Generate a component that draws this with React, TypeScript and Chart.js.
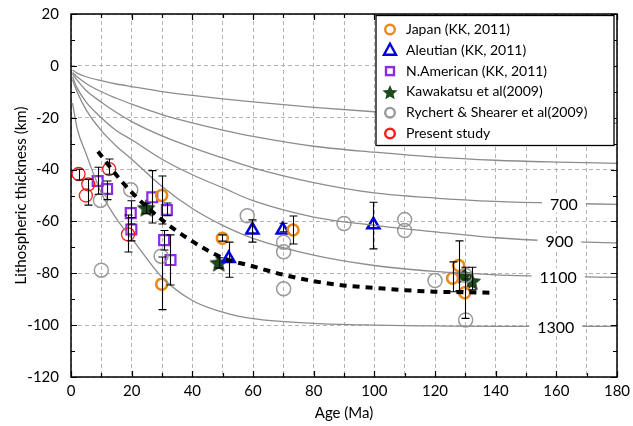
import { useEffect, useRef } from 'react';
import { Chart, registerables } from 'chart.js';
Chart.register(...registerables);

// ---- Isotherm curves (gray) ----
const ISO_AGE = [0.5, 2, 5, 10, 15, 20, 30, 40, 50, 60, 80, 100, 120, 140, 160, 180];
const ISO_A = [-1.6, -2.8, -4.2, -5.7, -7, -8, -9.9, -11.4, -12.7, -13.9, -16, -17.7, -19.2, -20.4, -21.4, -22.2];
const ISO_B = [-2.6, -4.2, -6.8, -10, -12.5, -14.8, -18.8, -22, -24.8, -27.2, -31, -33.3, -35.2, -36.4, -37.1, -37.6];
const ISO_700 = [-3.2, -5.5, -9.5, -14, -18, -21.5, -27, -31.5, -35.5, -39.3, -45, -49, -51, -52.3, -53, -53.4];
const ISO_900 = [-4.2, -8.5, -14, -20, -25, -28.5, -36, -42, -47, -52, -58.3, -61.5, -64, -66.3, -67.6, -68.3];
const ISO_1100 = [-5.3, -10, -17, -25, -31, -36, -46.5, -55, -61.5, -66.5, -73, -77, -79.3, -80.6, -81.2, -81.6];
const ISO_1300 = [-14.4, -24, -34, -49, -59, -66.5, -81.5, -90.5, -95, -97.5, -99.3, -100, -100.3, -100.5, -100.5, -100.5];
const ISO_LABELS = ['', '', '700', '900', '1100', '1300'];

// ---- Thick dashed trend ----
const TREND_AGE = [8.9, 14, 19.7, 29.9, 39.9, 49.9, 59.9, 69.8, 79.8, 89.8, 99.8, 109.8, 119.7, 129.7, 138];
const TREND_DEPTH = [-33, -40.7, -48.4, -59.3, -67.6, -74, -77.3, -80.5, -83, -84.7, -85.6, -86.5, -87.1, -87.3, -87.5];

// ---- Japan (KK, 2011) ----
const JAPAN_AGE = [29.9, 29.9, 49.9, 73.2, 127.8, 125.8, 129.8];
const JAPAN_DEPTH = [-50, -84.2, -66.5, -63.3, -77, -81.9, -87.5];
const JAPAN_ERR_HI = [-42.5, -73.7, -65.2, -57.9, -67.5, -75.6, -77.7];
const JAPAN_ERR_LO = [-61, -94, -67.6, -68.7, -86.7, -87.1, -97.4];

// ---- Aleutian (KK, 2011) ----
const ALEUT_AGE = [52, 59.8, 69.8, 99.7];
const ALEUT_DEPTH = [-74.3, -63.3, -63.3, -61.3];
const ALEUT_ERR_HI = [-68, -59.4, -60.7, -52.6];
const ALEUT_ERR_LO = [-81.5, -68, -64, -70.6];

// ---- N.American (KK, 2011) ----
const NAM_AGE = [8.8, 11.9, 19.7, 19.9, 26.8, 31.6, 30.7, 32.8];
const NAM_DEPTH = [-44.4, -47.5, -56.8, -63.1, -50.7, -55.6, -67.2, -74.9];
const NAM_ERR_HI = [-39.1, -44.4, -52, -58.5, -40.4, -52.9, -63.5, -65.2];
const NAM_ERR_LO = [-49.5, -51.6, -61, -67.5, -60.6, -57.8, -71, -84.5];

// ---- Kawakatsu et al (2009) ----
const KAWA_AGE = [24.8, 48.7, 129.6, 132.1];
const KAWA_DEPTH = [-54.7, -75.9, -80.6, -83];
const KAWA_ERR_HI = [-53, -74, null, -77.7];
const KAWA_ERR_LO = [-57, -78, null, -86.4];

// ---- Rychert & Shearer et al (2009) ----
const RYCH_AGE = [9.7, 10, 19.7, 29.7, 58.1, 70.1, 70.1, 70.1, 90, 110, 110, 120, 130.1, 130.1];
const RYCH_DEPTH = [-51.9, -78.8, -47.8, -73.4, -57.8, -68, -71.7, -86, -60.8, -59.3, -63.5, -82.8, -80.9, -98];

// ---- Present study ----
const PRES_AGE = [2.5, 5.7, 4.9, 12.6, 18.8];
const PRES_DEPTH = [-41.7, -45.7, -50, -39.8, -65];
const PRES_ERR_HI = [-39.9, -43.8, null, -35.9, -57.5];
const PRES_ERR_LO = [-44, -53.7, null, -41.8, -71.8];

const X_TICKS = [0, 20, 40, 60, 80, 100, 120, 140, 160, 180];

const LEGEND_ITEMS = [
  { text: 'Japan (KK, 2011)', kind: 'circle', color: '#e8891c' },
  { text: 'Aleutian (KK, 2011)', kind: 'triangle', color: '#0000e0' },
  { text: 'N.American (KK, 2011)', kind: 'square', color: '#8a2be8' },
  { text: 'Kawakatsu et al(2009)', kind: 'star', color: '#1d4a1d' },
  { text: 'Rychert & Shearer et al(2009)', kind: 'circle', color: '#999999' },
  { text: 'Present study', kind: 'circle', color: '#ff1a1a' },
];

const FONT = 'Lato, "Open Sans", sans-serif';

function pts(xs: number[], ys: number[]) {
  return xs.map((x, i) => ({ x, y: ys[i] }));
}

function starPath(ctx: CanvasRenderingContext2D, cx: number, cy: number, R: number) {
  const r = R * 0.45;
  ctx.beginPath();
  for (let i = 0; i < 10; i++) {
    const a = -Math.PI / 2 + (i * Math.PI) / 5;
    const rr = i % 2 ? r : R;
    const px = cx + rr * Math.cos(a);
    const py = cy + rr * Math.sin(a);
    if (i === 0) ctx.moveTo(px, py);
    else ctx.lineTo(px, py);
  }
  ctx.closePath();
}

function makeStar(size: number) {
  const c = document.createElement('canvas');
  c.width = size;
  c.height = size;
  const g = c.getContext('2d')!;
  starPath(g, size / 2, size / 2 + 1, size / 2 - 1);
  g.fillStyle = '#1d4a1d';
  g.fill();
  g.strokeStyle = '#0d260d';
  g.lineWidth = 1;
  g.stroke();
  return c;
}

function interp(xs: number[], ys: number[], x: number) {
  for (let i = 0; i < xs.length - 1; i++) {
    if (x >= xs[i] && x <= xs[i + 1]) {
      const t = (x - xs[i]) / (xs[i + 1] - xs[i]);
      return ys[i] + t * (ys[i + 1] - ys[i]);
    }
  }
  return ys[ys.length - 1];
}

const errorBarPlugin = {
  id: 'errorBars',
  afterDatasetsDraw(chart: any) {
    const { ctx, scales } = chart;
    const xs = scales.x, ys = scales.y;
    ctx.save();
    ctx.strokeStyle = '#000';
    ctx.lineWidth = 1.1;
    chart.data.datasets.forEach((ds: any) => {
      if (!ds.errHi) return;
      ds.data.forEach((p: any, i: number) => {
        const hi = ds.errHi[i], lo = ds.errLo[i];
        if (hi == null || lo == null) return;
        const px = Math.round(xs.getPixelForValue(p.x)) + 0.5;
        const y1 = ys.getPixelForValue(hi), y2 = ys.getPixelForValue(lo);
        ctx.beginPath();
        ctx.moveTo(px, y1);
        ctx.lineTo(px, y2);
        ctx.moveTo(px - 4, y1);
        ctx.lineTo(px + 4, y1);
        ctx.moveTo(px - 4, y2);
        ctx.lineTo(px + 4, y2);
        ctx.stroke();
      });
    });
    ctx.restore();
  },
};

const isoLabelPlugin = {
  id: 'isoLabels',
  afterDatasetsDraw(chart: any) {
    const { ctx, scales } = chart;
    const labelAges: Record<string, number> = { '700': 162.5, '900': 161, '1100': 160.6, '1300': 159.8 };
    ctx.save();
    ctx.font = '16px ' + FONT;
    ctx.textAlign = 'center';
    ctx.textBaseline = 'middle';
    chart.data.datasets.forEach((ds: any) => {
      if (!ds.isoLabel) return;
      const age = labelAges[ds.isoLabel];
      const depth = interp(ISO_AGE, ds.data.map((d: any) => d.y), age);
      const px = scales.x.getPixelForValue(age);
      const py = scales.y.getPixelForValue(depth);
      const w = ctx.measureText(ds.isoLabel).width;
      ctx.fillStyle = '#fff';
      ctx.fillRect(px - w / 2 - 8, py - 8, w + 16, 17);
      ctx.fillStyle = '#000';
      ctx.fillText(ds.isoLabel, px, py + 1);
    });
    ctx.restore();
  },
};

function drawLegendMarker(ctx: CanvasRenderingContext2D, kind: string, color: string, x: number, y: number) {
  ctx.save();
  ctx.strokeStyle = color;
  ctx.fillStyle = color;
  ctx.lineWidth = 2.4;
  if (kind === 'circle') {
    ctx.beginPath();
    ctx.arc(x, y, 4.8, 0, Math.PI * 2);
    ctx.stroke();
  } else if (kind === 'square') {
    ctx.strokeRect(x - 4, y - 4, 8, 8);
  } else if (kind === 'triangle') {
    ctx.beginPath();
    ctx.moveTo(x, y - 6.5);
    ctx.lineTo(x + 6, y + 4.5);
    ctx.lineTo(x - 6, y + 4.5);
    ctx.closePath();
    ctx.stroke();
  } else if (kind === 'star') {
    starPath(ctx, x, y + 1, 8);
    ctx.fill();
  }
  ctx.restore();
}

const framePlugin = {
  id: 'frameLegend',
  afterDraw(chart: any) {
    const { ctx, chartArea: a, scales } = chart;
    ctx.save();
    // inward ticks
    ctx.strokeStyle = '#000';
    ctx.lineWidth = 1.2;
    ctx.beginPath();
    for (let v = 0; v <= 180; v += 10) {
      const px = Math.round(scales.x.getPixelForValue(v)) + 0.5;
      const len = v % 20 === 0 ? 6 : 4;
      ctx.moveTo(px, a.bottom);
      ctx.lineTo(px, a.bottom - len);
      ctx.moveTo(px, a.top);
      ctx.lineTo(px, a.top + len);
    }
    for (let v = -120; v <= 20; v += 10) {
      const py = Math.round(scales.y.getPixelForValue(v)) + 0.5;
      const len = v % 20 === 0 ? 6 : 4;
      ctx.moveTo(a.left, py);
      ctx.lineTo(a.left + len, py);
      ctx.moveTo(a.right, py);
      ctx.lineTo(a.right - len, py);
    }
    ctx.stroke();
    ctx.lineWidth = 1.5;
    ctx.strokeRect(a.left, a.top, a.right - a.left, a.bottom - a.top);

    // legend box
    const lx = a.left + 305, ly = a.top + 1.5, lw = a.right - 3 - lx, lh = 130;
    ctx.fillStyle = '#fff';
    ctx.fillRect(lx, ly, lw, lh);
    ctx.lineWidth = 1.3;
    ctx.strokeRect(lx, ly, lw, lh);
    ctx.font = '14px ' + FONT;
    ctx.textBaseline = 'middle';
    ctx.textAlign = 'left';
    LEGEND_ITEMS.forEach((it, i) => {
      const y = ly + 14 + i * 20.8;
      drawLegendMarker(ctx, it.kind, it.color, lx + 14, y);
      ctx.fillStyle = '#000';
      ctx.fillText(it.text, lx + 30, y);
    });
    ctx.restore();
  },
};

export default function App() {
  const ref = useRef<HTMLCanvasElement | null>(null);
  useEffect(() => {
    document.body.style.margin = '0';
    const star = makeStar(20);
    const isoSets = [ISO_A, ISO_B, ISO_700, ISO_900, ISO_1100, ISO_1300].map((arr, i) => ({
      type: 'line' as const,
      data: pts(ISO_AGE, arr),
      borderColor: '#8c8c8c',
      borderWidth: 1.3,
      pointRadius: 0,
      fill: false,
      cubicInterpolationMode: 'monotone' as const,
      isoLabel: ISO_LABELS[i],
    }));
    const chart = new Chart(ref.current!, {
      type: 'scatter',
      data: {
        datasets: [
          ...isoSets,
          {
            type: 'line',
            data: pts(TREND_AGE, TREND_DEPTH),
            borderColor: '#000',
            borderWidth: 4,
            borderDash: [7, 6],
            pointRadius: 0,
            fill: false,
            cubicInterpolationMode: 'monotone',
          },
          {
            data: pts(RYCH_AGE, RYCH_DEPTH),
            pointStyle: 'circle',
            pointRadius: 7,
            borderColor: '#9a9a9a',
            borderWidth: 1.5,
            backgroundColor: 'rgba(0,0,0,0)',
          },
          {
            data: pts(PRES_AGE, PRES_DEPTH),
            pointStyle: 'circle',
            pointRadius: 6.5,
            borderColor: '#ff1a1a',
            borderWidth: 1.3,
            backgroundColor: 'rgba(0,0,0,0)',
            errHi: PRES_ERR_HI,
            errLo: PRES_ERR_LO,
          },
          {
            data: pts(JAPAN_AGE, JAPAN_DEPTH),
            pointStyle: 'circle',
            pointRadius: 5.5,
            borderColor: '#e8891c',
            borderWidth: 2.6,
            backgroundColor: 'rgba(0,0,0,0)',
            errHi: JAPAN_ERR_HI,
            errLo: JAPAN_ERR_LO,
          },
          {
            data: pts(NAM_AGE, NAM_DEPTH),
            pointStyle: 'rect',
            pointRadius: 7,
            borderColor: '#8a2be8',
            borderWidth: 2.2,
            backgroundColor: 'rgba(0,0,0,0)',
            errHi: NAM_ERR_HI,
            errLo: NAM_ERR_LO,
          },
          {
            data: pts(ALEUT_AGE, ALEUT_DEPTH),
            pointStyle: 'triangle',
            pointRadius: 7,
            borderColor: '#0000e0',
            borderWidth: 2.5,
            backgroundColor: 'rgba(0,0,0,0)',
            errHi: ALEUT_ERR_HI,
            errLo: ALEUT_ERR_LO,
          },
          {
            data: pts(KAWA_AGE, KAWA_DEPTH),
            pointStyle: star,
            pointRadius: 9,
            errHi: KAWA_ERR_HI,
            errLo: KAWA_ERR_LO,
          },
        ] as any,
      },
      options: {
        animation: false,
        responsive: false,
        devicePixelRatio: 1,
        layout: { padding: { top: 14, right: 16, left: 0, bottom: 0 } },
        plugins: { legend: { display: false }, tooltip: { enabled: false } },
        scales: {
          x: {
            type: 'linear',
            min: 0,
            max: 180,
            afterFit: (s: any) => {
              s.height = 49;
              s.paddingLeft = 0;
              s.paddingRight = 0;
            },
            afterBuildTicks: (s: any) => {
              const t = [];
              for (let v = 0; v <= 180; v += 10) t.push({ value: v });
              s.ticks = t;
            },
            ticks: {
              autoSkip: false,
              maxRotation: 0,
              padding: 5,
              color: '#000',
              font: { family: FONT, size: 15 },
              callback: (v: any) => (X_TICKS.includes(Number(v)) ? String(v) : ''),
            },
            grid: { color: '#b4b4b4', lineWidth: 1, drawTicks: false },
            border: { display: false, dash: [4, 3] },
            title: {
              display: true,
              text: 'Age (Ma)',
              color: '#000',
              font: { family: FONT, size: 15 },
              padding: { top: 0, bottom: 4 },
            },
          },
          y: {
            type: 'linear',
            min: -120,
            max: 20,
            afterFit: (s: any) => {
              s.width = 71;
              s.paddingTop = 0;
              s.paddingBottom = 0;
            },
            ticks: {
              stepSize: 20,
              padding: 12,
              color: '#000',
              font: { family: FONT, size: 15 },
            },
            grid: { color: '#b4b4b4', lineWidth: 1, drawTicks: false },
            border: { display: false, dash: [4, 3] },
            title: {
              display: true,
              text: 'Lithospheric thickness (km)',
              color: '#000',
              font: { family: FONT, size: 15 },
              padding: { top: 12, bottom: 0 },
            },
          },
        },
      } as any,
      plugins: [errorBarPlugin, isoLabelPlugin, framePlugin],
    });
    return () => chart.destroy();
  }, []);
  return (
    <div style={{ width: 633, height: 426 }}>
      <canvas ref={ref} width={633} height={426} />
    </div>
  );
}
